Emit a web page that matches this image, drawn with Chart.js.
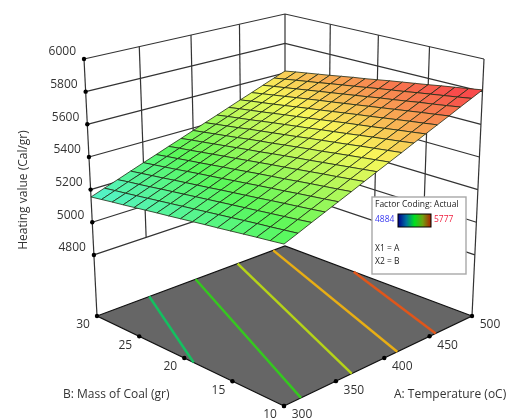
<!DOCTYPE html>
<html>
<head>
<meta charset="utf-8">
<title>Heating value surface</title>
<script src="https://cdn.jsdelivr.net/npm/chart.js@4/dist/chart.umd.min.js"></script>
<style>
  html, body { margin: 0; padding: 0; background: #fff; }
  canvas { display: block; }
</style>
</head>
<body>
<canvas id="surfaceChart" width="508" height="418"></canvas>
<script>
// Axis ticks
const tempTicks = [300, 350, 400, 450, 500];
const massTicks = [10, 15, 20, 25, 30];
const heatTicks = [4800, 5000, 5200, 5400, 5600, 5800, 6000];

// Surface grid
const gridTemp = [300, 312.5, 325, 337.5, 350, 362.5, 375, 387.5, 400, 412.5, 425, 437.5, 450, 462.5, 475, 487.5, 500];
const gridMass = [10, 11.25, 12.5, 13.75, 15, 16.25, 17.5, 18.75, 20, 21.25, 22.5, 23.75, 25, 26.25, 27.5, 28.75, 30];
// one row per mass, one column per temperature
const heatingValue = [
  [5311, 5342, 5374, 5405, 5436, 5467, 5499, 5530, 5561, 5592, 5624, 5655, 5686, 5717, 5749, 5780, 5811],
  [5301, 5332, 5363, 5394, 5425, 5456, 5488, 5519, 5550, 5581, 5612, 5643, 5674, 5705, 5736, 5767, 5798],
  [5292, 5322, 5353, 5384, 5415, 5446, 5477, 5508, 5539, 5570, 5601, 5632, 5663, 5694, 5724, 5755, 5786],
  [5282, 5313, 5343, 5374, 5405, 5436, 5467, 5497, 5528, 5559, 5590, 5620, 5651, 5682, 5713, 5743, 5774],
  [5272, 5303, 5333, 5364, 5394, 5425, 5456, 5486, 5517, 5547, 5578, 5608, 5639, 5670, 5700, 5731, 5761],
  [5262, 5293, 5323, 5353, 5384, 5414, 5445, 5475, 5505, 5536, 5566, 5597, 5627, 5658, 5688, 5718, 5749],
  [5253, 5283, 5313, 5343, 5374, 5404, 5434, 5465, 5495, 5525, 5555, 5586, 5616, 5646, 5677, 5707, 5737],
  [5243, 5273, 5303, 5333, 5363, 5394, 5424, 5454, 5484, 5514, 5544, 5574, 5604, 5634, 5664, 5695, 5725],
  [5233, 5263, 5293, 5323, 5353, 5383, 5413, 5443, 5473, 5502, 5532, 5562, 5592, 5622, 5652, 5682, 5712],
  [5223, 5253, 5283, 5312, 5342, 5372, 5402, 5431, 5461, 5491, 5521, 5550, 5580, 5610, 5640, 5670, 5699],
  [5214, 5243, 5273, 5302, 5332, 5362, 5391, 5421, 5451, 5480, 5510, 5539, 5569, 5599, 5628, 5658, 5688],
  [5204, 5233, 5263, 5292, 5322, 5351, 5381, 5410, 5440, 5469, 5499, 5528, 5557, 5587, 5616, 5646, 5675],
  [5194, 5223, 5253, 5282, 5311, 5340, 5370, 5399, 5428, 5458, 5487, 5516, 5545, 5575, 5604, 5633, 5662],
  [5184, 5213, 5242, 5271, 5300, 5330, 5359, 5388, 5417, 5446, 5475, 5504, 5533, 5563, 5592, 5621, 5650],
  [5175, 5203, 5232, 5261, 5290, 5319, 5348, 5377, 5406, 5435, 5464, 5493, 5522, 5551, 5580, 5609, 5638],
  [5165, 5194, 5223, 5251, 5280, 5309, 5338, 5367, 5395, 5424, 5453, 5482, 5511, 5539, 5568, 5597, 5626],
  [5155, 5184, 5212, 5241, 5270, 5298, 5327, 5355, 5384, 5413, 5441, 5470, 5499, 5527, 5556, 5585, 5613],
];

// Contours on the floor, each one from a start (temp, mass) to an end (temp, mass)
const contourStartTemp = [351, 399, 445, 486, 500];
const contourStartMass = [30, 30, 30, 30, 22.1];
const contourEndTemp = [300, 316, 366, 414, 457];
const contourEndMass = [19, 10, 10, 10, 10];
const contourColors = ["#14c060", "#35c81f", "#b5d318", "#e8ae14", "#e0561a"];

const legendMin = 4884;
const legendMax = 5777;

// Z range of the box (floor sits below the lowest labelled tick)
const zFloor = 4426;
const zTop = 6000;

// Box corners on the canvas: front, right, back, left
const floorCorners = [[284, 406], [472, 316], [285, 246], [97, 316]];
const topCorners = [[284, 118], [484, 59], [285, 14], [84, 59]];

// Homography from the unit square to a quad
function quadMap(q) {
  const [p0, p1, p2, p3] = q;
  const dx1 = p1[0] - p2[0], dx2 = p3[0] - p2[0], sx = p0[0] - p1[0] + p2[0] - p3[0];
  const dy1 = p1[1] - p2[1], dy2 = p3[1] - p2[1], sy = p0[1] - p1[1] + p2[1] - p3[1];
  const den = dx1 * dy2 - dx2 * dy1;
  const g = (sx * dy2 - dx2 * sy) / den;
  const h = (dx1 * sy - sx * dy1) / den;
  const a = p1[0] - p0[0] + g * p1[0], b = p3[0] - p0[0] + h * p3[0];
  const d = p1[1] - p0[1] + g * p1[1], e = p3[1] - p0[1] + h * p3[1];
  return (u, v) => {
    const w = g * u + h * v + 1;
    return [(a * u + b * v + p0[0]) / w, (d * u + e * v + p0[1]) / w];
  };
}
const floorMap = quadMap(floorCorners);
const topMap = quadMap(topCorners);

// temperature, mass, heating value -> canvas point
function project(temp, mass, z) {
  const u = (temp - 300) / 200;
  const v = (mass - 10) / 20;
  const w = (z - zFloor) / (zTop - zFloor);
  const f = floorMap(u, v);
  const t = topMap(u, v);
  return { x: f[0] + (t[0] - f[0]) * w, y: f[1] + (t[1] - f[1]) * w };
}

// Colour ramp of the surface
function rampColor(z) {
  const stops = [[80, 80, 255], [80, 240, 240], [90, 248, 90], [248, 248, 90], [248, 75, 75]];
  let t = (z - legendMin) / (legendMax - legendMin);
  t = Math.max(0, Math.min(0.9999, t)) * 4;
  const i = Math.floor(t);
  const k = t - i;
  const c = stops[i].map((s, n) => Math.round(s + (stops[i + 1][n] - s) * k));
  return `rgb(${c[0]},${c[1]},${c[2]})`;
}

// Datasets in paint order, back to front
const layers = [];

function addLine(points, color, width) {
  layers.push({ data: points, showLine: true, borderColor: color, borderWidth: width, pointRadius: 0, tension: 0, fill: false });
}
function addDots(points) {
  layers.push({ data: points, showLine: false, pointRadius: 2.2, pointBackgroundColor: "#000", pointBorderWidth: 0 });
}

const wallColor = "#333333";
const zMin = heatTicks[0];

// back walls: horizontal lines
heatTicks.forEach((z) => {
  addLine([project(300, 30, z), project(500, 30, z), project(500, 10, z)], wallColor, 1.2);
});
// back walls: vertical lines
tempTicks.slice(1).forEach((t) => addLine([project(t, 30, zMin), project(t, 30, zTop)], wallColor, 1.2));
massTicks.slice(0, -1).slice(1).forEach((m) => addLine([project(500, m, zMin), project(500, m, zTop)], wallColor, 1.2));
// corner uprights run down to the floor
addLine([project(300, 30, zFloor), project(300, 30, zTop)], wallColor, 1.2);
addLine([project(500, 10, zFloor), project(500, 10, zTop)], wallColor, 1.2);

// floor
layers.push({
  data: [project(300, 10, zFloor), project(500, 10, zFloor), project(500, 30, zFloor), project(300, 30, zFloor), project(300, 10, zFloor)],
  showLine: true, borderColor: "#111", borderWidth: 1.2, backgroundColor: "#666666", fill: "shape", pointRadius: 0, tension: 0,
});

// contours
contourColors.forEach((col, i) => {
  addLine([project(contourStartTemp[i], contourStartMass[i], zFloor), project(contourEndTemp[i], contourEndMass[i], zFloor)], col, 2.5);
});

// tick dots
addDots(heatTicks.map((z) => project(300, 30, z)));
addDots(massTicks.map((m) => project(300, m, zFloor)));
addDots(tempTicks.map((t) => project(t, 10, zFloor)));

// surface cells, far corner first
for (let j = gridMass.length - 2; j >= 0; j--) {
  for (let i = gridTemp.length - 2; i >= 0; i--) {
    const z00 = heatingValue[j][i], z10 = heatingValue[j][i + 1];
    const z01 = heatingValue[j + 1][i], z11 = heatingValue[j + 1][i + 1];
    const a = project(gridTemp[i], gridMass[j], z00);
    layers.push({
      data: [a, project(gridTemp[i + 1], gridMass[j], z10), project(gridTemp[i + 1], gridMass[j + 1], z11), project(gridTemp[i], gridMass[j + 1], z01), a],
      showLine: true, borderColor: "#1e2a14", borderWidth: 0.8,
      backgroundColor: rampColor((z00 + z10 + z01 + z11) / 4),
      fill: "shape", pointRadius: 0, tension: 0,
    });
  }
}

// Text and the legend box go on top of the datasets
const textPlugin = {
  id: "textPlugin",
  afterDatasetsDraw(chart) {
    const { ctx, scales } = chart;
    const px = (x) => scales.x.getPixelForValue(x);
    const py = (y) => scales.y.getPixelForValue(y);
    const label = (s, x, y, align, font, color) => {
      ctx.font = font;
      ctx.fillStyle = color;
      ctx.textAlign = align;
      ctx.textBaseline = "middle";
      ctx.fillText(s, px(x), py(y));
    };
    const tickFont = "12px 'Open Sans'";
    const ink = "#333";
    ctx.save();
    heatTicks.forEach((z) => {
      const p = project(300, 30, z);
      label(String(z), p.x - 8, p.y - 7, "right", tickFont, ink);
    });
    massTicks.forEach((m) => {
      const p = project(300, m, zFloor);
      label(String(m), p.x - 14, p.y + 9, "center", tickFont, ink);
    });
    tempTicks.forEach((t) => {
      const p = project(t, 10, zFloor);
      label(String(t), p.x + 18, p.y + 9, "center", tickFont, ink);
    });
    label("B: Mass of Coal (gr)", 63, 395, "left", tickFont, ink);
    label("A: Temperature (oC)", 394, 395, "left", tickFont, ink);

    ctx.save();
    ctx.translate(px(24), py(190));
    ctx.rotate(-Math.PI / 2);
    ctx.font = tickFont;
    ctx.fillStyle = ink;
    ctx.textAlign = "center";
    ctx.textBaseline = "middle";
    ctx.fillText("Heating value (Cal/gr)", 0, 0);
    ctx.restore();

    // legend box
    ctx.fillStyle = "#fff";
    ctx.strokeStyle = "#a8a8a8";
    ctx.lineWidth = 1.4;
    ctx.fillRect(px(372), py(197), 94, 77);
    ctx.strokeRect(px(372), py(197), 94, 77);
    const small = "8.5px 'Open Sans'";
    label("Factor Coding: Actual", 375, 205, "left", small, "#222");
    label(String(legendMin), 375, 220, "left", small, "#3a3af0");
    label(String(legendMax), 434, 220, "left", small, "#f02040");
    label("X1 = A", 375, 249, "left", small, "#222");
    label("X2 = B", 375, 262, "left", small, "#222");
    const grad = ctx.createLinearGradient(px(398), 0, px(431), 0);
    grad.addColorStop(0, "#00008c");
    grad.addColorStop(0.25, "#0070a0");
    grad.addColorStop(0.5, "#00e020");
    grad.addColorStop(0.75, "#70a010");
    grad.addColorStop(1, "#b02000");
    ctx.fillStyle = grad;
    ctx.fillRect(px(398), py(214), 33, 13);
    ctx.strokeStyle = "#000";
    ctx.lineWidth = 1;
    ctx.strokeRect(px(398), py(214), 33, 13);
    ctx.restore();
  },
};

const ctx = document.getElementById("surfaceChart").getContext("2d");
// First dataset is painted last, so the list is reversed
new Chart(ctx, {
  type: "scatter",
  data: { datasets: layers.slice().reverse() },
  options: {
    responsive: false,
    animation: false,
    layout: { padding: 0, autoPadding: false },
    scales: {
      x: { type: "linear", min: 0, max: 508, display: false },
      y: { type: "linear", min: 0, max: 418, reverse: true, display: false },
    },
    plugins: { legend: { display: false }, tooltip: { enabled: false } },
  },
  plugins: [textPlugin],
});
</script>
</body>
</html>
